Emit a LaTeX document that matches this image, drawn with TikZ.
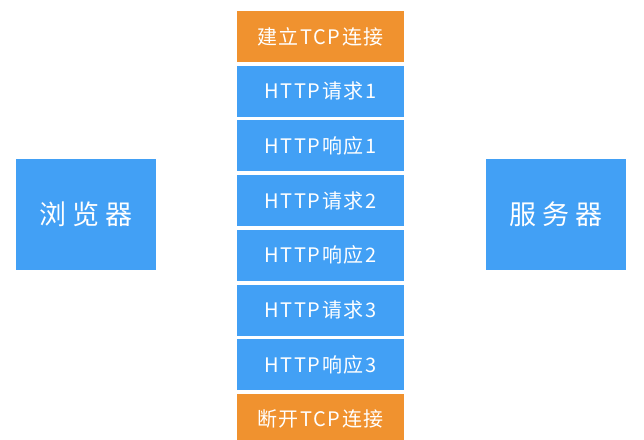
\documentclass[tikz,border=0pt]{standalone}
\usepackage{fontspec}
\setmainfont{Noto Sans CJK SC}
\newfontfamily\cjkwide[LetterSpace=22]{Noto Sans CJK SC}
\newfontfamily\cjkrow[LetterSpace=8]{Noto Sans CJK SC}
\usepackage{xcolor}
\usepackage{tikz}
\usetikzlibrary{positioning}

\definecolor{boxblue}{HTML}{42A0F5}
\definecolor{boxorange}{HTML}{F0922F}

\begin{document}
\begin{tikzpicture}[
        x=1pt, y=-1pt,
        node distance=3.7pt,
        endpoint/.style={rectangle, fill=boxblue, text=white, minimum width=140pt, minimum height=111pt, inner sep=0pt, outer sep=0pt, font=\fontsize{27}{30}\selectfont\cjkwide},
        msgbox/.style={rectangle, fill=boxblue, text=white, minimum width=167pt, minimum height=51pt, inner sep=0pt, outer sep=0pt, font=\fontsize{20}{24}\selectfont\cjkrow},
        tcpbox/.style={msgbox, fill=boxorange}
    ]

    \clip (0,0) rectangle (644,439);
    \useasboundingbox (0,0) rectangle (644,439);

    \node[endpoint] (browser) at (86,214.5) {浏览器};
    \node[endpoint] (server) at (556,214.5) {服务器};

    \node[tcpbox] (tcpopen) at (320.5,36.5) {建立TCP连接};
    \node[msgbox, below=of tcpopen] (req1) {HTTP请求1};
    \node[msgbox, below=of req1] (resp1) {HTTP响应1};
    \node[msgbox, below=of resp1] (req2) {HTTP请求2};
    \node[msgbox, below=of req2] (resp2) {HTTP响应2};
    \node[msgbox, below=of resp2] (req3) {HTTP请求3};
    \node[msgbox, below=of req3] (resp3) {HTTP响应3};
    \node[tcpbox, below=of resp3] (tcpclose) {断开TCP连接};

\end{tikzpicture}
\end{document}
